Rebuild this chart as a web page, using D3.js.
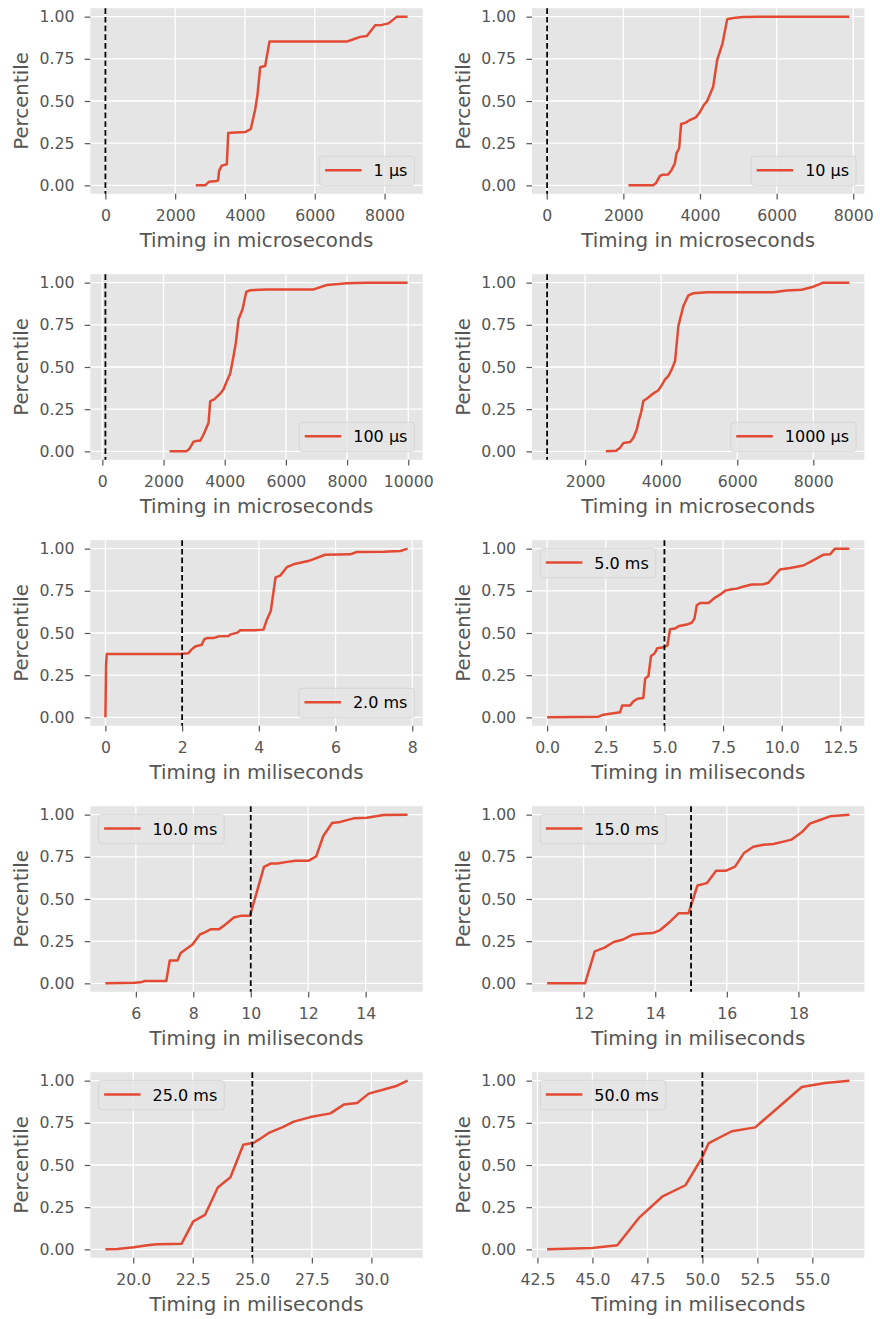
<!DOCTYPE html>
<html>
<head>
<meta charset="utf-8">
<script src="https://cdn.jsdelivr.net/npm/d3@7"></script>
<style>
  body { margin: 0; background: #fff; }
  svg text { font-family: "DejaVu Sans", sans-serif; }
</style>
</head>
<body>
<svg id="chart" width="880" height="1319"></svg>
<script>
// one panel per sleep setting
const names = ["1 µs", "10 µs", "100 µs", "1000 µs", "2.0 ms", "5.0 ms", "10.0 ms", "15.0 ms", "25.0 ms", "50.0 ms"];
const thresholds = [1, 10, 100, 1000, 2, 5, 10, 15, 25, 50];
const xLabels = ["Timing in microseconds", "Timing in microseconds", "Timing in microseconds", "Timing in microseconds",
  "Timing in miliseconds", "Timing in miliseconds", "Timing in miliseconds", "Timing in miliseconds",
  "Timing in miliseconds", "Timing in miliseconds"];
const legendCorner = ["lower right", "lower right", "lower right", "lower right", "lower right",
  "upper left", "upper left", "upper left", "upper left", "upper left"];
const xTickLabels = [
  ["0", "2000", "4000", "6000", "8000"],
  ["0", "2000", "4000", "6000", "8000"],
  ["0", "2000", "4000", "6000", "8000", "10000"],
  ["2000", "4000", "6000", "8000"],
  ["0", "2", "4", "6", "8"],
  ["0.0", "2.5", "5.0", "7.5", "10.0", "12.5"],
  ["6", "8", "10", "12", "14"],
  ["12", "14", "16", "18"],
  ["20.0", "22.5", "25.0", "27.5", "30.0"],
  ["42.5", "45.0", "47.5", "50.0", "52.5", "55.0"]
];
const yTickLabels = ["0.00", "0.25", "0.50", "0.75", "1.00"];

// [timing, percentile]
const s1us = [[2590,0],[2858,0],[2973,0.022],[3192,0.026],[3230,0.03],[3260,0.087],[3336,0.117],[3480,0.125],
  [3520,0.31],[3600,0.312],[4005,0.316],[4167,0.334],[4290,0.447],[4358,0.535],[4435,0.70],[4578,0.707],
  [4702,0.852],[6920,0.852],[7111,0.866],[7302,0.88],[7493,0.885],[7732,0.949],[7924,0.951],[8115,0.96],
  [8354,1],[8660,1]];
const s10us = [[2133,0],[2777,0],[2847,0.012],[2951,0.055],[3021,0.063],[3169,0.065],[3256,0.09],[3343,0.13],
  [3386,0.19],[3456,0.22],[3508,0.364],[3630,0.372],[3735,0.387],[3891,0.403],[3978,0.427],[4083,0.47],
  [4187,0.5],[4344,0.585],[4448,0.743],[4588,0.842],[4710,0.984],[4866,0.992],[5127,0.998],[5562,1],[7896,1]];
const s100us = [[2196,0],[2741,0],[2850,0.016],[2981,0.057],[3112,0.063],[3200,0.063],[3308,0.10],[3472,0.17],
  [3526,0.298],[3657,0.308],[3853,0.342],[3962,0.368],[4071,0.417],[4180,0.462],[4289,0.565],[4365,0.644],
  [4453,0.783],[4583,0.842],[4703,0.945],[4834,0.955],[5379,0.96],[6905,0.96],[7341,0.986],[7995,0.996],
  [8649,1],[9978,1]];
const s1000us = [[2543,0],[2815,0.004],[2920,0.022],[3007,0.05],[3183,0.055],[3270,0.081],[3358,0.13],[3419,0.19],
  [3471,0.23],[3533,0.30],[3621,0.312],[3796,0.344],[3927,0.362],[4015,0.393],[4102,0.427],[4190,0.447],
  [4277,0.486],[4365,0.536],[4452,0.743],[4584,0.862],[4715,0.925],[4846,0.937],[5197,0.943],[6949,0.943],
  [7299,0.953],[7693,0.958],[8000,0.976],[8262,1],[8946,1]];
const s2ms = [[0,0],[0.017,0.31],[0.035,0.375],[1.948,0.375],[2.165,0.38],[2.235,0.40],[2.34,0.42],[2.513,0.43],
  [2.574,0.462],[2.643,0.47],[2.817,0.47],[2.948,0.48],[3.209,0.482],[3.27,0.492],[3.443,0.502],[3.513,0.516],
  [3.861,0.516],[4.122,0.52],[4.209,0.579],[4.313,0.632],[4.435,0.83],[4.557,0.84],[4.73,0.89],[4.904,0.907],
  [5.339,0.93],[5.73,0.964],[6.383,0.966],[6.557,0.98],[7.252,0.982],[7.687,0.986],[7.878,1]];
const s5ms = [[0,0],[2.19,0.004],[2.4,0.016],[2.61,0.02],[3.11,0.03],[3.2,0.071],[3.54,0.071],[3.68,0.095],
  [3.85,0.11],[4.1,0.115],[4.18,0.23],[4.32,0.245],[4.43,0.364],[4.57,0.377],[4.70,0.41],[4.96,0.415],
  [5.13,0.427],[5.24,0.522],[5.45,0.526],[5.63,0.542],[5.95,0.55],[6.16,0.561],[6.28,0.585],[6.38,0.664],
  [6.52,0.678],[6.88,0.678],[7.16,0.71],[7.37,0.727],[7.59,0.751],[7.87,0.759],[8.08,0.763],[8.30,0.773],
  [8.72,0.787],[9.22,0.789],[9.43,0.798],[9.93,0.877],[10.36,0.885],[10.92,0.9],[11.2,0.92],[11.78,0.964],
  [12.06,0.966],[12.27,1],[12.88,1]];
const s10ms = [[4.94,0],[5.94,0.004],[6.17,0.006],[6.32,0.014],[7.06,0.014],[7.18,0.136],[7.45,0.136],[7.56,0.18],
  [7.97,0.23],[8.23,0.29],[8.37,0.30],[8.60,0.32],[8.89,0.32],[9.13,0.35],[9.41,0.39],[9.65,0.40],[9.97,0.40],
  [10.2,0.535],[10.46,0.69],[10.69,0.71],[10.92,0.71],[11.27,0.72],[11.56,0.727],[12.02,0.727],[12.28,0.753],
  [12.52,0.872],[12.83,0.95],[13.12,0.957],[13.58,0.978],[14.04,0.982],[14.62,0.998],[15.46,1]];
const s15ms = [[10.98,0],[12.04,0],[12.31,0.19],[12.57,0.21],[12.84,0.245],[13.08,0.258],[13.36,0.288],[13.59,0.294],
  [13.93,0.298],[14.14,0.316],[14.42,0.367],[14.66,0.416],[14.93,0.416],[15.18,0.58],[15.44,0.594],[15.70,0.668],
  [15.98,0.668],[16.23,0.692],[16.48,0.773],[16.74,0.81],[17.02,0.822],[17.30,0.826],[17.58,0.84],[17.81,0.852],
  [18.09,0.895],[18.32,0.947],[18.6,0.968],[18.88,0.99],[19.42,1]];
const s25ms = [[18.83,0],[19.33,0.002],[20.03,0.012],[20.59,0.024],[21.0,0.03],[21.57,0.032],[22.03,0.034],
  [22.52,0.166],[23.01,0.204],[23.55,0.367],[24.08,0.427],[24.62,0.62],[25.06,0.632],[25.27,0.65],[25.69,0.69],
  [26.25,0.723],[26.74,0.757],[27.44,0.784],[28.28,0.806],[28.84,0.858],[29.4,0.868],[29.89,0.923],[30.52,0.947],
  [31.08,0.970],[31.52,1]];
const s50ms = [[42.94,0],[45.0,0.008],[46.13,0.024],[47.14,0.19],[48.17,0.312],[49.23,0.38],[50.0,0.547],
  [50.29,0.63],[51.34,0.70],[52.40,0.723],[53.46,0.842],[54.52,0.962],[55.58,0.986],[56.68,1]];

const series = [s1us, s10us, s100us, s1000us, s2ms, s5ms, s10ms, s15ms, s25ms, s50ms];

const svg = d3.select("#chart");
const panelW = 332.4, panelH = 185.6;
const colLeft = [90.3, 532.0];
const rowTop0 = 8.2, rowStep = 266;
const red = "#E24A33", grey = "#555555";

const y = d3.scaleLinear().domain([-0.05, 1.05]).range([panelH, 0]);
const yTicks = yTickLabels.map(Number);

series.forEach((data, i) => {
  const left = colLeft[i % 2];
  const top = rowTop0 + rowStep * Math.floor(i / 2);

  // matplotlib style autoscale: data + dashed line, 5% margin
  const lo = Math.min(d3.min(data, d => d[0]), thresholds[i]);
  const hi = Math.max(d3.max(data, d => d[0]), thresholds[i]);
  const m = (hi - lo) * 0.05;
  const x = d3.scaleLinear().domain([lo - m, hi + m]).range([0, panelW]);
  const xTicks = xTickLabels[i].map(Number);

  const g = svg.append("g").attr("transform", "translate(" + left + "," + top + ")");

  g.append("rect")
    .attr("width", panelW)
    .attr("height", panelH)
    .attr("fill", "#E5E5E5");

  // grid
  g.selectAll(".gx").data(xTicks).enter().append("line")
    .attr("x1", d => x(d)).attr("x2", d => x(d))
    .attr("y1", 0).attr("y2", panelH)
    .attr("stroke", "#fff").attr("stroke-width", 1.3);
  g.selectAll(".gy").data(yTicks).enter().append("line")
    .attr("x1", 0).attr("x2", panelW)
    .attr("y1", d => y(d)).attr("y2", d => y(d))
    .attr("stroke", "#fff").attr("stroke-width", 1.3);

  // axes
  const xAxis = d3.axisBottom(x)
    .tickValues(xTicks)
    .tickFormat((d, j) => xTickLabels[i][j])
    .tickSizeInner(5.6).tickSizeOuter(0).tickPadding(10.3);
  const yAxis = d3.axisLeft(y)
    .tickValues(yTicks)
    .tickFormat((d, j) => yTickLabels[j])
    .tickSizeInner(5.6).tickSizeOuter(0).tickPadding(10.3);

  [g.append("g").attr("transform", "translate(0," + panelH + ")").call(xAxis),
   g.append("g").call(yAxis)].forEach(ax => {
    ax.select(".domain").remove();
    ax.selectAll("line").attr("stroke", grey).attr("stroke-width", 1.2);
    ax.selectAll("text")
      .attr("fill", grey)
      .style("font-size", "15.7px")
      .style("font-family", "'DejaVu Sans', sans-serif");
  });

  g.append("text")
    .attr("x", panelW / 2)
    .attr("y", panelH + 53.5)
    .attr("text-anchor", "middle")
    .attr("fill", grey)
    .style("font-size", "19.8px")
    .text(xLabels[i]);

  g.append("text")
    .attr("transform", "translate(-62," + (panelH / 2) + ") rotate(-90)")
    .attr("text-anchor", "middle")
    .attr("fill", grey)
    .style("font-size", "19.8px")
    .text("Percentile");

  // the curve
  const line = d3.line().x(d => x(d[0])).y(d => y(d[1]));
  g.append("path")
    .datum(data)
    .attr("d", line)
    .attr("fill", "none")
    .attr("stroke", red)
    .attr("stroke-width", 2.5)
    .attr("stroke-linejoin", "round");

  // sleep setting
  g.append("line")
    .attr("x1", x(thresholds[i])).attr("x2", x(thresholds[i]))
    .attr("y1", 0).attr("y2", panelH)
    .attr("stroke", "#000")
    .attr("stroke-width", 1.8)
    .attr("stroke-dasharray", "5.7,3");

  // legend
  const lg = g.append("g");
  const box = lg.append("rect")
    .attr("rx", 3).attr("ry", 3)
    .attr("fill", "#E5E5E5").attr("fill-opacity", 0.8)
    .attr("stroke", "#cccccc").attr("stroke-opacity", 0.8)
    .attr("stroke-width", 0.8);
  const label = lg.append("text")
    .attr("fill", "#000")
    .style("font-size", "16px")
    .text(names[i]);
  const tw = label.node().getComputedTextLength();
  const boxW = 5.5 + 36.5 + 12 + tw + 7, boxH = 29.3, off = 8.3;
  const bx = legendCorner[i] === "upper left" ? off : panelW - off - boxW;
  const by = legendCorner[i] === "upper left" ? off : panelH - off - boxH;
  box.attr("x", bx).attr("y", by).attr("width", boxW).attr("height", boxH);
  lg.append("line")
    .attr("x1", bx + 5.5).attr("x2", bx + 42)
    .attr("y1", by + boxH / 2 - 0.7).attr("y2", by + boxH / 2 - 0.7)
    .attr("stroke", red).attr("stroke-width", 2.5);
  label.attr("x", bx + 54).attr("y", by + boxH / 2 + 5.6);
});
</script>
</body>
</html>
